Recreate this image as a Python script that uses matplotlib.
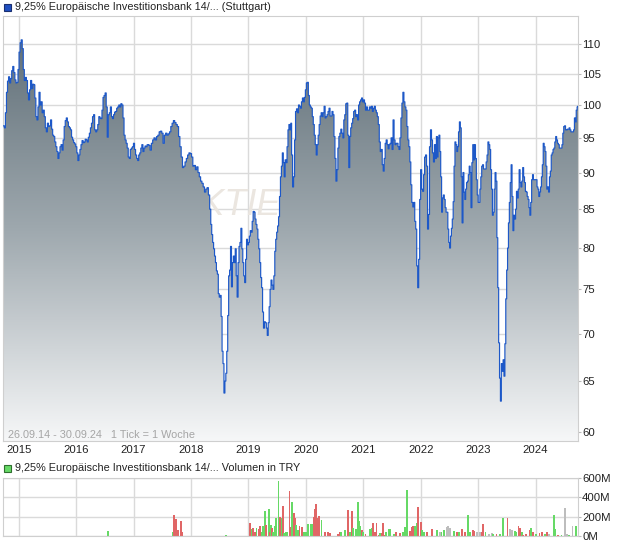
import numpy as np
import pandas as pd
import matplotlib
matplotlib.use('Agg')
import matplotlib.pyplot as plt
import matplotlib.dates as mdates
from matplotlib.patches import Rectangle
from matplotlib.colors import LinearSegmentedColormap
from matplotlib.ticker import FixedLocator, NullLocator, FuncFormatter

plt.rcParams['font.family'] = ['Liberation Sans', 'DejaVu Sans']

# weekly closes in pieces (start, end, values)
seg1_range = ('2014-09-26', '2017-04-04')
seg1 = [96.8, 96.5, 98.8, 102, 103.8, 104.5, 103.5, 104.2, 105.5, 106.2, 105.2, 104, 103.5, 103.6, 105.7,
        108.6, 110.2, 110.7, 109.2, 105.7, 103.9, 104.4, 103.9, 101.9, 100.8, 102.4, 103.9, 102.6, 103.3,
        103.2, 101.1, 98.2, 97.7, 99.7, 102, 100, 100.5, 98.8, 99.2, 98.2, 96.5, 95.9, 97.2, 96.7, 96.8,
        97.7, 96.3, 95.4, 95.2, 94.4, 93.7, 93, 92, 92.8, 93.7, 94, 93.2, 94.7, 96.7, 97.6, 98, 97.4, 96.7,
        96.5, 96.2, 95.1, 94.7, 94.3, 94.1, 93.7, 92.8, 91.7, 92.5, 93.3, 94, 94.6, 94.3, 94.4, 94.8, 94.7,
        94.4, 95.1, 95.7, 96.5, 97.2, 98.2, 98.5, 96.2, 95.9, 96.2, 97, 98.2, 98, 97.9, 99.2, 101.2, 101.5,
        101.9, 99.7, 95.1, 98.5, 98.8, 99.7, 98.2, 97.9, 98.5, 98.9, 99, 99.5, 99.7, 100, 99.7, 100.2, 100,
        98, 95.4, 94.7, 94.2, 93.5, 92.2, 92, 93.3, 93.5, 93.7, 94.2, 93.3, 92.5, 92, 91.7, 92.5, 92.8, 93.5,
        94, 93, 93.5, 93.8, 93.7, 94, 94]
seg2_range = ('2017-04-08', '2018-04-30')
seg2 = [93.9, 93.2, 94.2, 94.7, 95, 94.7, 95.2, 95.4, 95.9, 96, 95.7, 94.2, 95.4, 95.7, 95.4, 95.6, 95.9,
        96.7, 97.2, 97.6, 97.3, 97, 96.7, 95.2, 93.7, 92.2, 90.7, 90.9, 91.5, 92, 92.5, 92.8, 92.7, 92.2,
        90.9, 91, 90.4, 90.8, 90, 89.4, 88.8, 88.5, 88, 87.3, 87.7, 87.9, 86.9, 85]
seg3_range = ('2018-05-07', '2019-09-28')
seg3 = [83, 81.7, 80.7, 79.9, 79, 78.2, 77.2, 76.8, 74.5, 74.1, 74.3, 71.9, 68.1, 66.8, 63.8, 65, 65.8,
        68.1, 72, 76.6, 77.3, 80.2, 75.3, 78.2, 79, 78.2, 79.9, 76.6, 74.1, 78.2, 80.2, 80.7, 82.5, 79.9,
        78.2, 76.6, 75.8, 78.6, 81.1, 80.4, 80.7, 81.5, 82.2, 82, 83.4, 84.7, 84.6, 83.7, 83, 82.4, 81.1,
        79.9, 78.2, 76.4, 75.2, 72.4, 70.6, 71.3, 71.2, 70.6, 69.8, 71.2, 73, 75, 76.1, 75.5, 75, 76.6, 79.6,
        81.1, 82, 82.8, 84, 86.7, 89.4, 90.9, 92.8, 91.4, 89.4, 91.8, 91.4, 93.7, 96.2, 97, 96.2, 97.2]
seg4_range = ('2019-10-03', '2022-04-17')
seg4 = [92.5, 88, 89.4, 94.7, 99, 99.4, 98.8, 100, 99.8, 99.5, 100.5, 101.1, 100.5, 101.2, 102.4, 103.5,
        103.6, 101.5, 100, 99.7, 99.5, 98.2, 97, 95.4, 94, 92.5, 94, 95.4, 97, 98.3, 98.8, 98.2, 98.8, 99.8,
        98, 98.2, 98.5, 99, 99.5, 98.3, 98.3, 99, 98.5, 95.2, 92, 88.8, 90.4, 93.5, 95.2, 95.7, 96.3, 95.7,
        95, 97.7, 98.5, 100.2, 100.3, 95.4, 90.7, 95.2, 96.5, 97.2, 97.9, 99, 99.2, 98.2, 98.5, 97.7, 100,
        100.5, 100.8, 101.1, 100.5, 100.8, 100.3, 99.2, 99.7, 99.2, 99.2, 99.7, 99.5, 99.8, 99, 99.5, 99.8,
        99.2, 98.8, 98.2, 97, 94.4, 93, 93.3, 91.1, 90.2, 92, 94.2, 94.7, 94, 93.4, 94, 94.2, 95, 93.3, 97.7,
        94.7, 94, 94.2, 94.2, 93.7, 93.3, 95, 98, 100.3, 102, 100.5, 99.7, 99.2, 96.7, 94.7, 93.7, 91.5, 88.3,
        85.9, 85.3, 85.9, 83.4, 82.4, 77.8, 75.2, 78.6, 86.3, 90.4, 87.7, 87.4, 89.7, 92.2, 92.5, 90.9, 82.4,
        84.3, 93.7, 96.2, 94.7, 92.8, 91.5, 94, 92, 95.2, 92.2]
seg5_range = ('2022-04-21', '2024-09-27')
seg5 = [95, 95.4, 93, 89.4, 84.6, 86.5, 86.9, 86.3, 85.2, 84.6, 84.6, 82.4, 80.7, 80, 81.5, 82.5, 83.7, 86,
        90.9, 94.4, 94, 93, 93.7, 95.9, 97.4, 96.5, 89.4, 83.2, 90, 87.3, 86.3, 87.7, 88.6, 88.8, 89.7, 90.9,
        90, 85.2, 91.4, 94, 91.8, 94, 92, 89, 86.9, 85.9, 85.9, 87.7, 89.4, 90.9, 91.1, 90.5, 90.5, 90.5,
        91.5, 92.5, 94.4, 94, 93.3, 90.4, 87.7, 84.2, 84.6, 87.7, 90, 88.8, 81.3, 75.2, 69, 65.3, 63, 66.8,
        66, 67.2, 65.5, 68.9, 73.9, 77.3, 80, 83.2, 85.9, 88.6, 91.1, 86.7, 82.2, 84.2, 83.7, 85, 87.4, 86.5,
        87.7, 90.4, 88.6, 88, 88.8, 90.7, 89.4, 88.6, 87.4, 87.3, 86.7, 86.3, 85.2, 84.2, 85.9, 89, 89.7, 89,
        89, 89, 89, 88, 87.7, 86.7, 87.3, 88, 89.4, 91.1, 94.2, 93.7, 93, 90.9, 87.7, 88, 87.3, 89.4, 90.2,
        92.5, 92.8, 93.3, 93.5, 94.4, 95.2, 94.7, 94.2, 94, 93.5, 93.5, 93.5, 94, 95.7, 96.7, 96.8, 96.2,
        96.2, 96.3, 96.3, 96.5, 96.2, 95.9, 95.9, 95.9, 96.2, 98, 97.4, 99.2, 99.7, 99.8]

# volume: week number since 26.09.14, value in millions TRY, r/g/n = down/up/unchanged
vol_week = [95, 154, 155, 157, 159, 161, 162, 202, 224, 226, 227, 229, 230, 232, 233, 235, 236, 237, 238,
            239, 241, 242, 243, 244, 245, 247, 248, 250, 251, 253, 254, 255, 257, 258, 260, 261, 262, 264,
            265, 266, 268, 269, 271, 273, 275, 277, 279, 280, 282, 283, 284, 285, 286, 287, 289, 292, 295,
            297, 304, 306, 307, 310, 313, 315, 317, 318, 320, 322, 323, 324, 326, 327, 329, 333, 335, 336,
            338, 339, 341, 342, 344, 345, 347, 348, 350, 351, 355, 357, 360, 363, 365, 367, 369, 371, 372,
            374, 376, 377, 379, 380, 382, 385, 389, 394, 397, 398, 400, 403, 404, 406, 409, 412, 414, 417,
            419, 422, 424, 427, 428, 430, 433, 435, 436, 438, 441, 444, 445, 448, 451, 454, 458, 460, 462,
            465, 466, 468, 469, 471, 472, 475, 478, 479, 481, 484, 487, 489, 492, 494, 496, 500, 501, 504,
            507, 510, 512, 514, 517, 520]
vol_mio = [50, 40, 215, 175, 60, 155, 40, 12, 138, 75, 86, 40, 86, 75, 107, 45, 107, 107, 258, 114, 279,
           45, 114, 79, 45, 100, 183, 569, 200, 183, 314, 33, 38, 45, 465, 96, 348, 234, 183, 114, 62, 107,
           96, 45, 38, 121, 121, 128, 200, 279, 327, 183, 131, 210, 165, 45, 38, 28, 24, 38, 45, 62, 269, 45,
           258, 86, 72, 348, 155, 107, 62, 45, 24, 72, 86, 131, 38, 131, 10, 28, 35, 131, 10, 45, 72, 72, 17,
           38, 28, 38, 96, 476, 52, 96, 107, 107, 131, 296, 148, 62, 38, 38, 72, 62, 38, 45, 62, 96, 107, 79,
           52, 38, 45, 72, 38, 217, 45, 62, 52, 45, 38, 38, 121, 38, 20, 28, 24, 17, 17, 190, 190, 72, 62, 52,
           38, 107, 86, 38, 10, 17, 62, 86, 38, 17, 28, 45, 24, 38, 17, 217, 72, 10, 10, 293, 17, 10, 107, 107]
vol_side = ('ggrrrrrgrg' 'rrgrrggggr' 'grgrggggrg' 'rgggrrgrrg' 'grrgggggrr' 'rrrrgrrrrr'
            'ggrgrggggg' 'rgrggrrrrg' 'rrrggggrrg' 'ggrrrggrrg' 'grrgnggnnn' 'grgrrggrrn'
            'nrrgnngrgg' 'rnnggrrgrr' 'rgrgrrgrng' 'grgnngng')

year_ticks = list(range(2015, 2025))
price_ticks = list(range(60, 115, 5))
vol_ticks = [0, 200, 400, 600]

title = '9,25% Europäische Investitionsbank 14/... (Stuttgart)'
vol_title = '9,25% Europäische Investitionsbank 14/... Volumen in TRY'
range_note = '26.09.14 - 30.09.24   1 Tick = 1 Woche'

segs = [(seg1_range, seg1), (seg2_range, seg2), (seg3_range, seg3), (seg4_range, seg4), (seg5_range, seg5)]
dates = pd.DatetimeIndex(np.concatenate([pd.date_range(r[0], r[1], periods=len(v)).values for r, v in segs]))
prices = np.concatenate([v for r, v in segs])

start = pd.Timestamp('2014-09-26')
vdates = start + pd.to_timedelta(np.array(vol_week) * 7, unit='D')
side_col = {'r': '#e06666', 'g': '#66d966', 'n': '#bdbdbd'}
vcolors = [side_col[c] for c in vol_side]

grid_c = '#dadada'
xlim = (pd.Timestamp('2014-09-24'), pd.Timestamp('2024-09-27'))
fs = 7.8

fig = plt.figure(figsize=(6.2, 5.46), dpi=100)
ax = fig.add_axes([3/620, 1-441/546, 575/620, 425/546])
vax = fig.add_axes([3/620, 1-536/546, 575/620, 58/546])

ax.set_yscale('log')
ax.set_xlim(*xlim)
ax.set_ylim(59.2, 114.9)
ax.set_autoscale_on(False)

ax.text(0.415, 0.555, 'AKTIEN', transform=ax.transAxes, fontsize=26, fontstyle='italic',
        color='#ebe6e0', ha='center', va='center', zorder=0.8)

fill = ax.fill_between(dates, prices, 40, step='post', facecolor='none', lw=0)
cmap = LinearSegmentedColormap.from_list('bg', ['#5b6a73', '#9ea8ae', '#f6f7f8'])
grad = np.linspace(0, 1, 256).reshape(-1, 1)
im = ax.imshow(grad, cmap=cmap, extent=[0, 1, 0, 1], transform=ax.transAxes, aspect='auto',
               origin='upper', zorder=1, interpolation='bilinear')
im.set_clip_path(fill.get_paths()[0], transform=ax.transData)
ax.step(dates, prices, where='post', color='#1d58c8', lw=0.85, zorder=3)

ax.yaxis.set_major_locator(FixedLocator(price_ticks))
ax.yaxis.set_minor_locator(NullLocator())
ax.yaxis.set_major_formatter(FuncFormatter(lambda v, p: f'{v:.0f}'))
ax.set_xticks([pd.Timestamp(f'{y}-01-01') for y in year_ticks])
ax.xaxis.set_major_formatter(mdates.DateFormatter('%Y'))
ax.tick_params(axis='y', left=False, right=True, labelleft=False, labelright=True,
               length=2, color='#bbbbbb', labelsize=fs + 0.4, labelcolor='#222222', pad=1)
ax.tick_params(axis='x', length=0, labelsize=fs + 0.4, labelcolor='#222222', pad=3)
ax.grid(True, color=grid_c, lw=1)
ax.set_axisbelow(True)
for s in ax.spines.values():
    s.set_color('#cfcfcf')
ax.text(0.008, 0.014, range_note, transform=ax.transAxes, fontsize=fs, color='#a5a5a5',
        ha='left', va='center', zorder=4)

vax.bar(vdates, np.array(vol_mio) * 1e6, width=12, color=vcolors, lw=0, zorder=2, antialiased=False)
vax.set_xlim(*xlim)
vax.set_ylim(0, 600e6)
vax.yaxis.set_major_locator(FixedLocator([t * 1e6 for t in vol_ticks]))
vax.yaxis.set_major_formatter(FuncFormatter(lambda v, p: f'{v/1e6:.0f}M'))
vax.set_xticks([pd.Timestamp(f'{y}-01-01') for y in year_ticks])
vax.tick_params(axis='x', length=0, labelbottom=False)
vax.tick_params(axis='y', left=False, right=True, labelleft=False, labelright=True,
                length=2, color='#bbbbbb', labelsize=fs + 0.4, labelcolor='#222222', pad=1)
vax.grid(True, color=grid_c, lw=1)
vax.set_axisbelow(True)
for s in vax.spines.values():
    s.set_color('#cfcfcf')

fig.patches.append(Rectangle((4/620, 1-11/546), 7/620, 7/546, transform=fig.transFigure,
                             facecolor='#1f4fc0', edgecolor='#1a2f70', lw=0.8))
fig.text(15/620, 1-6.5/546, title, fontsize=fs, color='#222222', ha='left', va='center')
fig.patches.append(Rectangle((4/620, 1-472/546), 7/620, 7/546, transform=fig.transFigure,
                             facecolor='#66d966', edgecolor='#2f6f2f', lw=0.8))
fig.text(15/620, 1-468/546, vol_title, fontsize=fs, color='#222222', ha='left', va='center')

fig.savefig('out.png', dpi=100)
